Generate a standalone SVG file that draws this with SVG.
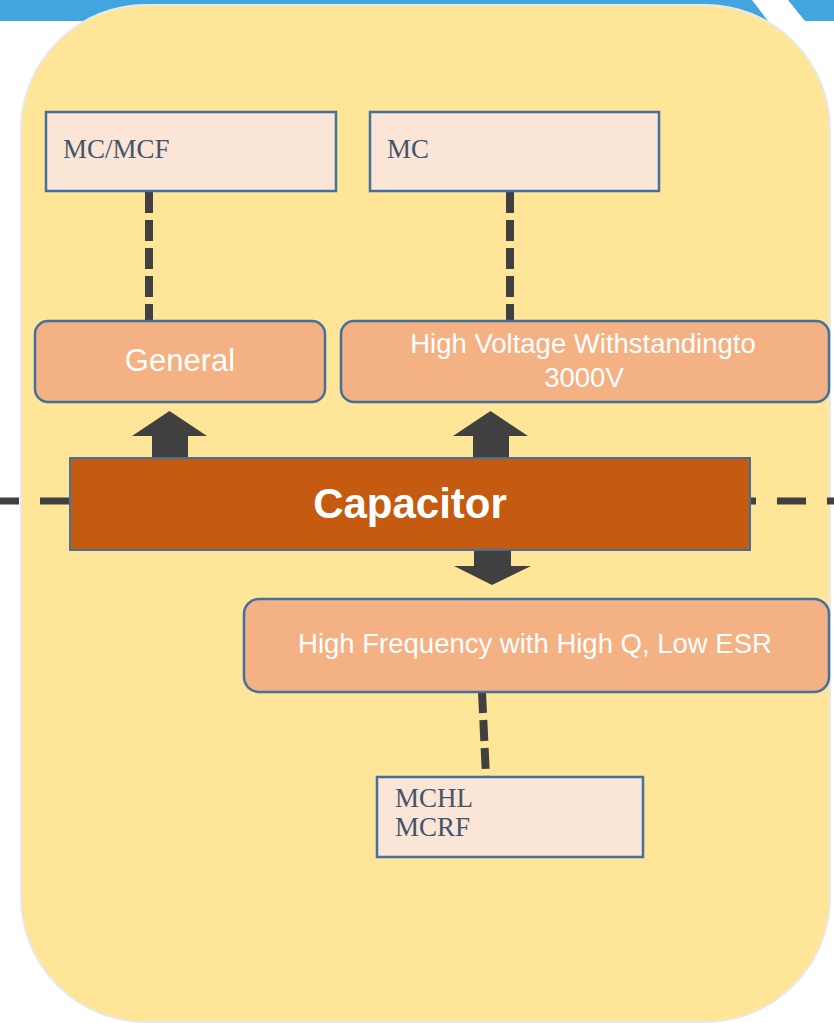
<svg xmlns="http://www.w3.org/2000/svg" width="834" height="1023" viewBox="0 0 834 1023">
  <style>
    .light { fill: #FBE5D6; stroke: #41719C; stroke-width: 2.5; }
    .mid { fill: #F4B183; stroke: #41719C; stroke-width: 2.5; }
    .ltxt { font-family: "Liberation Serif", "Times New Roman", serif; font-size: 27px; fill: #44546A; }
    .mtxt { font-family: "Liberation Sans", Arial, sans-serif; fill: #FFFFFF; text-anchor: middle; }
    .dash { stroke: #404040; stroke-width: 8; fill: none; stroke-dasharray: 21 7; }
    .hdash { stroke: #404040; stroke-width: 7; fill: none; stroke-dasharray: 29 21; }
    .arrow { fill: #404040; }
  </style>
  <rect x="0" y="0" width="834" height="1023" fill="#FFFFFF"/>
  <g id="background">
    <polygon points="0,0 752,0 768,21 0,21" fill="#42A5DE"/>
    <polygon points="788,0 834,0 834,21 805,21" fill="#42A5DE"/>
    <rect x="21" y="5" width="809" height="1017" rx="125" ry="125" fill="#FFE597" stroke="#E8E8E8" stroke-width="2"/>
  </g>
  <g id="connectors">
    <line class="dash" x1="149" y1="192" x2="149" y2="320"/>
    <line class="dash" x1="510" y1="192" x2="510" y2="320"/>
    <line class="dash" x1="482" y1="692" x2="486" y2="777"/>
    <line class="hdash" x1="-10" y1="501" x2="72" y2="501"/>
    <line class="hdash" x1="727" y1="501" x2="860" y2="501"/>
    <polygon class="arrow" points="169.5,411 207,436 188,436 188,460 152,460 152,436 132,436"/>
    <polygon class="arrow" points="490.5,411 528,436 509,436 509,460 473,460 473,436 453,436"/>
    <polygon class="arrow" points="474,548 511,548 511,566 531,566 492,585 454,566 474,566"/>
  </g>
  <g id="node-mcmcf">
    <rect class="light" x="46" y="112" width="290" height="79"/>
    <text class="ltxt" x="63" y="158">MC/MCF</text>
  </g>
  <g id="node-mc">
    <rect class="light" x="370" y="112" width="289" height="79"/>
    <text class="ltxt" x="387" y="158">MC</text>
  </g>
  <g id="node-general">
    <rect class="mid" x="35" y="321" width="290" height="81" rx="13" ry="13"/>
    <text class="mtxt" x="180" y="371" font-size="31">General</text>
  </g>
  <g id="node-highvoltage">
    <rect class="mid" x="341" y="321" width="488" height="81" rx="13" ry="13"/>
    <text class="mtxt" x="583" y="353" font-size="27.5">High Voltage Withstandingto</text>
    <text class="mtxt" x="584" y="387" font-size="27.5">3000V</text>
  </g>
  <g id="node-capacitor">
    <rect x="70" y="458" width="680" height="92" fill="#C55A11" stroke="#41719C" stroke-width="2"/>
    <text class="mtxt" x="410" y="518" font-size="42" font-weight="bold">Capacitor</text>
  </g>
  <g id="node-highfrequency">
    <rect class="mid" x="244" y="599" width="585" height="93" rx="15" ry="15"/>
    <text class="mtxt" x="535" y="653" font-size="27.5">High Frequency with High Q, Low ESR</text>
  </g>
  <g id="node-mchl">
    <rect class="light" x="377" y="777" width="266" height="80"/>
    <text class="ltxt" x="395" y="807" font-size="25">MCHL</text>
    <text class="ltxt" x="395" y="836" font-size="25">MCRF</text>
  </g>
</svg>
